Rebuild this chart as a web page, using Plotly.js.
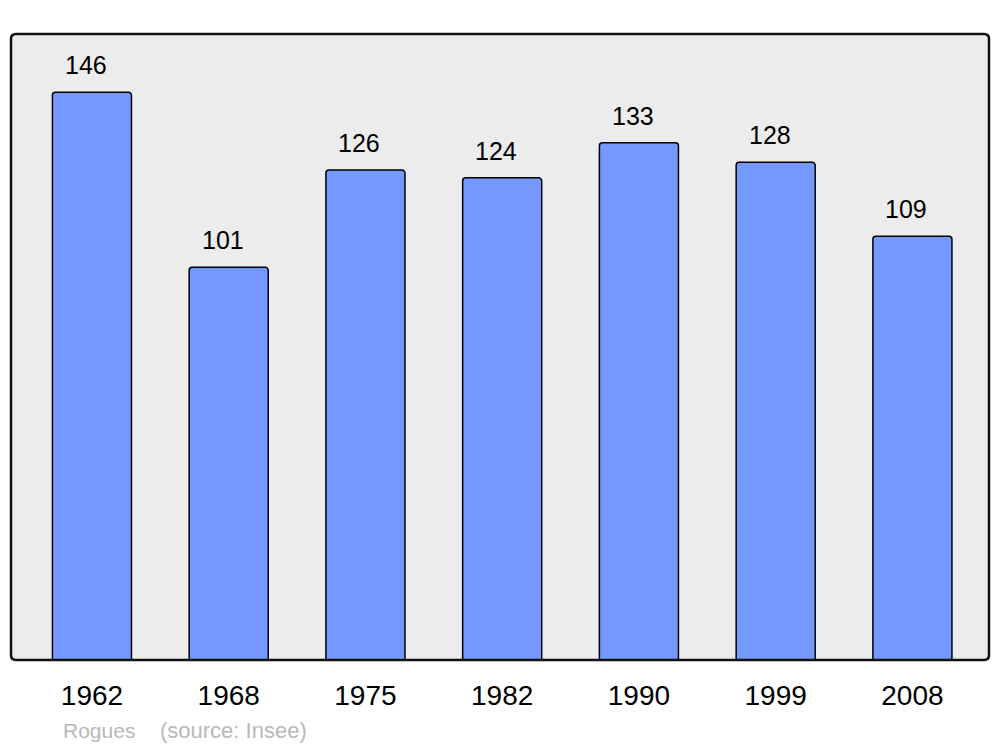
<!DOCTYPE html>
<html>
<head>
<meta charset="utf-8">
<script src="https://cdn.plot.ly/plotly-3.0.1.min.js"></script>
<style>html,body{margin:0;padding:0;background:#fff;}#chart{width:1000px;height:747px;}</style>
</head>
<body>
<div id="chart"></div>
<script>
const years = ["1962", "1968", "1975", "1982", "1990", "1999", "2008"];
const population = [146, 101, 126, 124, 133, 128, 109];
const commune = "Rogues";
const source = "(source: Insee)";

const W = 978, H = 626, r = 5;
const rx = r / W, ry = r / H;
const framePath = `M ${rx},0 L ${1 - rx},0 Q 1,0 1,${ry} L 1,${1 - ry} Q 1,1 ${1 - rx},1 L ${rx},1 Q 0,1 0,${1 - ry} L 0,${ry} Q 0,0 ${rx},0 Z`;
const FONT = 'Liberation Sans, Arial, sans-serif';

const trace = {
  type: 'bar',
  x: years,
  y: population,
  width: 0.578,
  marker: { color: '#7399ff', line: { color: '#000', width: 1.5 }, cornerradius: 3 },
  hoverinfo: 'none'
};

const annotations = years.map((yr, i) => ({
  x: i, y: population[i], xref: 'x', yref: 'y',
  text: String(population[i]), showarrow: false,
  yanchor: 'middle', yshift: 27, xshift: -6,
  font: { family: FONT, size: 25, color: '#000' }
}));
annotations.push({
  xref: 'paper', yref: 'paper', x: (61 - 11) / W, y: -(730 - 660) / H,
  xanchor: 'left', yanchor: 'middle', showarrow: false, text: commune,
  font: { family: FONT, size: 21, color: '#b8b8b8' }
});
annotations.push({
  xref: 'paper', yref: 'paper', x: (158 - 11) / W, y: -(730 - 660) / H,
  xanchor: 'left', yanchor: 'middle', showarrow: false, text: source,
  font: { family: FONT, size: 22, color: '#b8b8b8' }
});

const layout = {
  width: 1000, height: 747,
  margin: { l: 11, r: 11, t: 34, b: 87, pad: 0 },
  paper_bgcolor: '#fff',
  plot_bgcolor: '#ececec',
  showlegend: false,
  xaxis: {
    type: 'category', range: [-0.592, 6.560],
    showgrid: false, zeroline: false, showline: false, ticks: '',
    ticklabelstandoff: 16,
    tickfont: { family: FONT, size: 28, color: '#000' },
    fixedrange: true
  },
  yaxis: {
    range: [0, 161], showgrid: false, zeroline: false, showline: false,
    showticklabels: false, ticks: '', fixedrange: true
  },
  shapes: [{
    type: 'path', xref: 'paper', yref: 'paper', path: framePath,
    line: { color: '#111', width: 2.5 }, fillcolor: 'rgba(0,0,0,0)', layer: 'above'
  }],
  annotations: annotations
};

Plotly.newPlot('chart', [trace], layout, { displayModeBar: false, staticPlot: true });
</script>
</body>
</html>
